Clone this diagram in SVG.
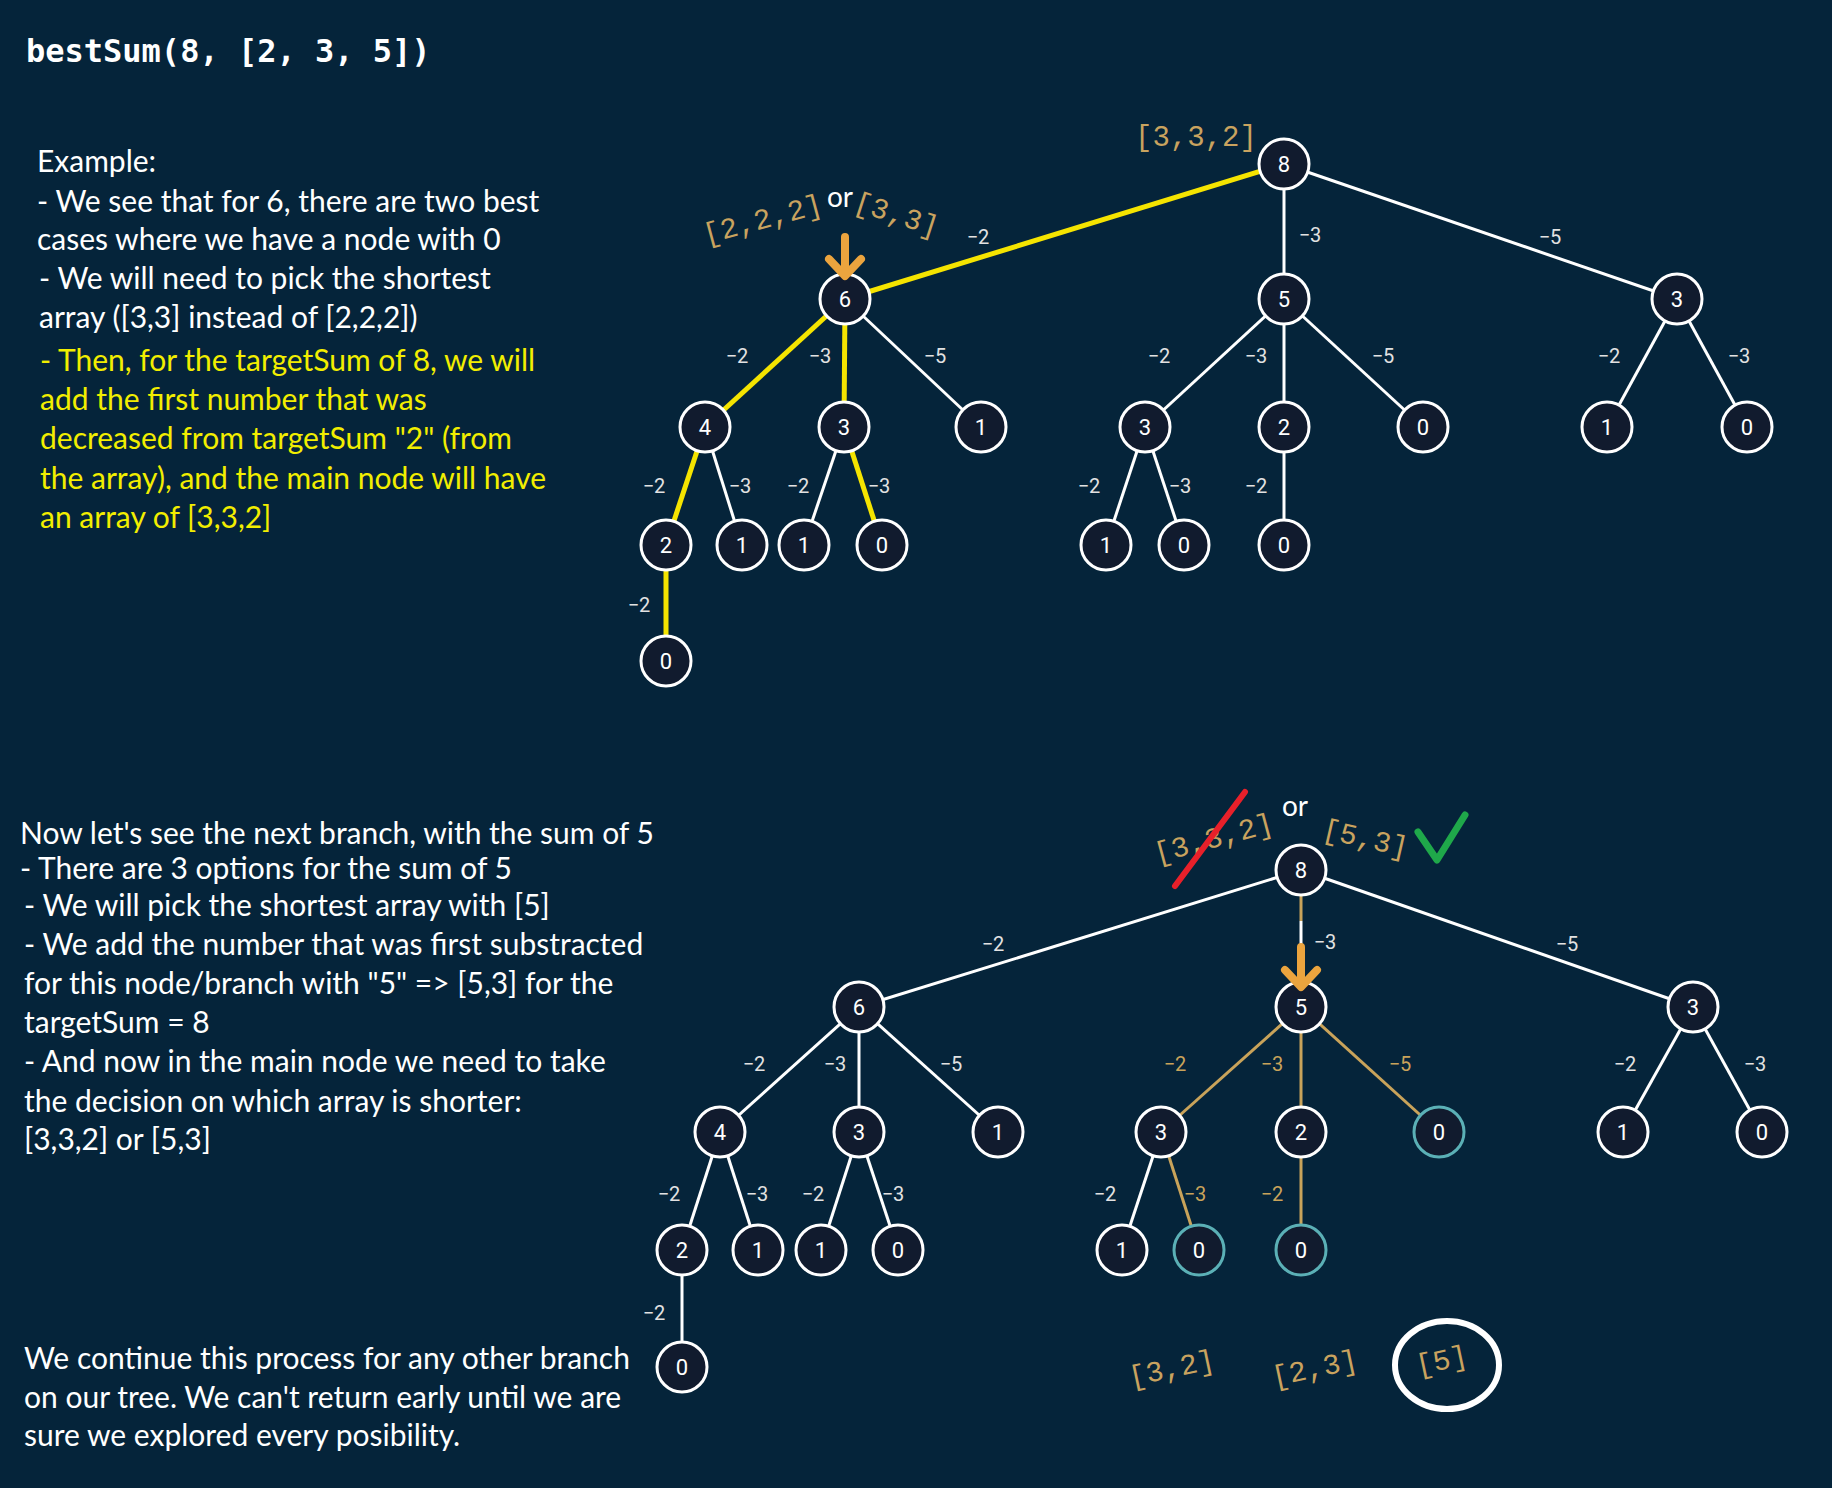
<svg xmlns="http://www.w3.org/2000/svg" width="1832" height="1488" viewBox="0 0 1832 1488">
<style>
.e{stroke:#ffffff;stroke-width:3;fill:none}
.y{stroke:#f5e400;stroke-width:5;fill:none}
.g{stroke:#c9a35a;stroke-width:3;fill:none}
.n circle{fill:#111b2e;stroke:#ffffff;stroke-width:3}
.teal circle{stroke:#5bb0b6}
.n text{font-family:Roboto,"Liberation Sans",sans-serif;font-size:22px;fill:#ffffff;text-anchor:middle;dominant-baseline:central}
.el{font-family:Roboto,"Liberation Sans",sans-serif;font-size:20px;fill:#e2e2e2;text-anchor:middle;dominant-baseline:central}
.gl{fill:#c9a35a}
.arr{font-family:"Liberation Mono",monospace;font-size:29px;fill:#c9a35f;text-anchor:middle;dominant-baseline:central}
.p{font-family:Lato,"Open Sans",sans-serif;font-size:30px;fill:#ffffff}
.yl{fill:#f2ee00}
.or{font-family:Lato,"Open Sans",sans-serif;font-size:28px;fill:#ffffff;text-anchor:middle;dominant-baseline:central}
.ar{stroke:#eba43e;stroke-width:8;stroke-linecap:round;stroke-linejoin:round;fill:none}
</style>
<rect width="1832" height="1488" fill="#05243a"/>

<text x="26" y="62" font-family="'DejaVu Sans Mono',monospace" font-weight="bold" font-size="32" fill="#ffffff">bestSum(8, [2, 3, 5])</text>

<g id="text-top">
<text class="p" x="37" y="172">Example:</text>
<text class="p" x="37" y="212">- We see that for 6, there are two best</text>
<text class="p" x="37" y="250">cases where we have a node with 0</text>
<text class="p" x="39" y="289">- We will need to pick the shortest</text>
<text class="p" x="39" y="328">array ([3,3] instead of [2,2,2])</text>
<text class="p yl" x="40" y="371">- Then, for the targetSum of 8, we will</text>
<text class="p yl" x="40" y="410">add the first number that was</text>
<text class="p yl" x="40" y="449">decreased from targetSum "2" (from</text>
<text class="p yl" x="40" y="489">the array), and the main node will have</text>
<text class="p yl" x="40" y="528">an array of [3,3,2]</text>
</g>

<g id="text-bottom">
<text class="p" x="20" y="844">Now let's see the next branch, with the sum of 5</text>
<text class="p" x="20" y="879">- There are 3 options for the sum of 5</text>
<text class="p" x="24" y="916"> - We will pick the shortest array with [5]</text>
<text class="p" x="24" y="955"> - We add the number that was first substracted</text>
<text class="p" x="24" y="994">for this node/branch with "5" =&gt; [5,3] for the</text>
<text class="p" x="24" y="1033">targetSum = 8</text>
<text class="p" x="24" y="1072">- And now in the main node we need to take</text>
<text class="p" x="24" y="1112">the decision on which array is shorter:</text>
<text class="p" x="24" y="1150">[3,3,2] or [5,3]</text>
<text class="p" x="24" y="1369">We continue this process for any other branch</text>
<text class="p" x="24" y="1408">on our tree. We can't return early until we are</text>
<text class="p" x="24" y="1446">sure we explored every posibility.</text>
</g>

<g id="connectors">
<!-- top tree -->
<line class="y" x1="1284" y1="164" x2="845" y2="299" stroke-width="8"/>
<line class="e" x1="1284" y1="164" x2="1284" y2="299"/>
<line class="e" x1="1284" y1="164" x2="1677" y2="299"/>
<line class="y" x1="845" y1="299" x2="705" y2="427"/>
<line class="y" x1="845" y1="299" x2="844" y2="427"/>
<line class="e" x1="845" y1="299" x2="981" y2="427"/>
<line class="e" x1="1284" y1="299" x2="1145" y2="427"/>
<line class="e" x1="1284" y1="299" x2="1284" y2="427"/>
<line class="e" x1="1284" y1="299" x2="1423" y2="427"/>
<line class="e" x1="1677" y1="299" x2="1607" y2="427"/>
<line class="e" x1="1677" y1="299" x2="1747" y2="427"/>
<line class="y" x1="705" y1="427" x2="666" y2="545"/>
<line class="e" x1="705" y1="427" x2="742" y2="545"/>
<line class="e" x1="844" y1="427" x2="804" y2="545"/>
<line class="y" x1="844" y1="427" x2="882" y2="545"/>
<line class="e" x1="1145" y1="427" x2="1106" y2="545"/>
<line class="e" x1="1145" y1="427" x2="1184" y2="545"/>
<line class="e" x1="1284" y1="427" x2="1284" y2="545"/>
<line class="y" x1="666" y1="545" x2="666" y2="661"/>
<!-- bottom tree -->
<line class="e" x1="1301" y1="870" x2="859" y2="1007"/>
<line class="g" x1="1301" y1="870" x2="1301" y2="921"/>
<line class="e" x1="1301" y1="921" x2="1301" y2="947"/>
<line class="e" x1="1301" y1="870" x2="1693" y2="1007"/>
<line class="e" x1="859" y1="1007" x2="720" y2="1132"/>
<line class="e" x1="859" y1="1007" x2="859" y2="1132"/>
<line class="e" x1="859" y1="1007" x2="998" y2="1132"/>
<line class="g" x1="1301" y1="1007" x2="1161" y2="1132"/>
<line class="g" x1="1301" y1="1007" x2="1301" y2="1132"/>
<line class="g" x1="1301" y1="1007" x2="1439" y2="1132"/>
<line class="e" x1="1693" y1="1007" x2="1623" y2="1132"/>
<line class="e" x1="1693" y1="1007" x2="1762" y2="1132"/>
<line class="e" x1="720" y1="1132" x2="682" y2="1250"/>
<line class="e" x1="720" y1="1132" x2="758" y2="1250"/>
<line class="e" x1="859" y1="1132" x2="821" y2="1250"/>
<line class="e" x1="859" y1="1132" x2="898" y2="1250"/>
<line class="e" x1="1161" y1="1132" x2="1122" y2="1250"/>
<line class="g" x1="1161" y1="1132" x2="1199" y2="1250"/>
<line class="g" x1="1301" y1="1132" x2="1301" y2="1250"/>
<line class="e" x1="682" y1="1250" x2="682" y2="1367"/>
</g>

<g id="edge-labels">
<text class="el" x="978" y="237">−2</text>
<text class="el" x="1310" y="235">−3</text>
<text class="el" x="1550" y="237">−5</text>
<text class="el" x="737" y="356">−2</text>
<text class="el" x="820" y="356">−3</text>
<text class="el" x="935" y="356">−5</text>
<text class="el" x="1159" y="356">−2</text>
<text class="el" x="1256" y="356">−3</text>
<text class="el" x="1383" y="356">−5</text>
<text class="el" x="1609" y="356">−2</text>
<text class="el" x="1739" y="356">−3</text>
<text class="el" x="654" y="486">−2</text>
<text class="el" x="740" y="486">−3</text>
<text class="el" x="798" y="486">−2</text>
<text class="el" x="879" y="486">−3</text>
<text class="el" x="1089" y="486">−2</text>
<text class="el" x="1180" y="486">−3</text>
<text class="el" x="1256" y="486">−2</text>
<text class="el" x="639" y="605">−2</text>

<text class="el" x="993" y="944">−2</text>
<text class="el" x="1325" y="942">−3</text>
<text class="el" x="1567" y="944">−5</text>
<text class="el" x="754" y="1064">−2</text>
<text class="el" x="835" y="1064">−3</text>
<text class="el" x="951" y="1064">−5</text>
<text class="el gl" x="1175" y="1064">−2</text>
<text class="el gl" x="1272" y="1064">−3</text>
<text class="el gl" x="1400" y="1064">−5</text>
<text class="el" x="1625" y="1064">−2</text>
<text class="el" x="1755" y="1064">−3</text>
<text class="el" x="669" y="1194">−2</text>
<text class="el" x="757" y="1194">−3</text>
<text class="el" x="813" y="1194">−2</text>
<text class="el" x="893" y="1194">−3</text>
<text class="el" x="1105" y="1194">−2</text>
<text class="el gl" x="1195" y="1194">−3</text>
<text class="el gl" x="1272" y="1194">−2</text>
<text class="el" x="654" y="1313">−2</text>
</g>

<g id="nodes-top">
<g id="t8" class="n"><circle cx="1284" cy="164" r="25"/><text x="1284" y="164">8</text></g>
<g id="t6" class="n"><circle cx="845" cy="299" r="25"/><text x="845" y="299">6</text></g>
<g id="t5" class="n"><circle cx="1284" cy="299" r="25"/><text x="1284" y="299">5</text></g>
<g id="t3r" class="n"><circle cx="1677" cy="299" r="25"/><text x="1677" y="299">3</text></g>
<g id="t4" class="n"><circle cx="705" cy="427" r="25"/><text x="705" y="427">4</text></g>
<g id="t3a" class="n"><circle cx="844" cy="427" r="25"/><text x="844" y="427">3</text></g>
<g id="t1a" class="n"><circle cx="981" cy="427" r="25"/><text x="981" y="427">1</text></g>
<g id="t3b" class="n"><circle cx="1145" cy="427" r="25"/><text x="1145" y="427">3</text></g>
<g id="t2b" class="n"><circle cx="1284" cy="427" r="25"/><text x="1284" y="427">2</text></g>
<g id="t0b" class="n"><circle cx="1423" cy="427" r="25"/><text x="1423" y="427">0</text></g>
<g id="t1r" class="n"><circle cx="1607" cy="427" r="25"/><text x="1607" y="427">1</text></g>
<g id="t0r" class="n"><circle cx="1747" cy="427" r="25"/><text x="1747" y="427">0</text></g>
<g id="t2a" class="n"><circle cx="666" cy="545" r="25"/><text x="666" y="545">2</text></g>
<g id="t1c" class="n"><circle cx="742" cy="545" r="25"/><text x="742" y="545">1</text></g>
<g id="t1d" class="n"><circle cx="804" cy="545" r="25"/><text x="804" y="545">1</text></g>
<g id="t0d" class="n"><circle cx="882" cy="545" r="25"/><text x="882" y="545">0</text></g>
<g id="t1e" class="n"><circle cx="1106" cy="545" r="25"/><text x="1106" y="545">1</text></g>
<g id="t0e" class="n"><circle cx="1184" cy="545" r="25"/><text x="1184" y="545">0</text></g>
<g id="t0f" class="n"><circle cx="1284" cy="545" r="25"/><text x="1284" y="545">0</text></g>
<g id="t0g" class="n"><circle cx="666" cy="661" r="25"/><text x="666" y="661">0</text></g>
</g>

<g id="nodes-bottom">
<g id="b8" class="n"><circle cx="1301" cy="870" r="25"/><text x="1301" y="870">8</text></g>
<g id="b6" class="n"><circle cx="859" cy="1007" r="25"/><text x="859" y="1007">6</text></g>
<g id="b5" class="n"><circle cx="1301" cy="1007" r="25"/><text x="1301" y="1007">5</text></g>
<g id="b3r" class="n"><circle cx="1693" cy="1007" r="25"/><text x="1693" y="1007">3</text></g>
<g id="b4" class="n"><circle cx="720" cy="1132" r="25"/><text x="720" y="1132">4</text></g>
<g id="b3a" class="n"><circle cx="859" cy="1132" r="25"/><text x="859" y="1132">3</text></g>
<g id="b1a" class="n"><circle cx="998" cy="1132" r="25"/><text x="998" y="1132">1</text></g>
<g id="b3b" class="n"><circle cx="1161" cy="1132" r="25"/><text x="1161" y="1132">3</text></g>
<g id="b2b" class="n"><circle cx="1301" cy="1132" r="25"/><text x="1301" y="1132">2</text></g>
<g id="b0b" class="n teal"><circle cx="1439" cy="1132" r="25"/><text x="1439" y="1132">0</text></g>
<g id="b1r" class="n"><circle cx="1623" cy="1132" r="25"/><text x="1623" y="1132">1</text></g>
<g id="b0r" class="n"><circle cx="1762" cy="1132" r="25"/><text x="1762" y="1132">0</text></g>
<g id="b2a" class="n"><circle cx="682" cy="1250" r="25"/><text x="682" y="1250">2</text></g>
<g id="b1c" class="n"><circle cx="758" cy="1250" r="25"/><text x="758" y="1250">1</text></g>
<g id="b1d" class="n"><circle cx="821" cy="1250" r="25"/><text x="821" y="1250">1</text></g>
<g id="b0d" class="n"><circle cx="898" cy="1250" r="25"/><text x="898" y="1250">0</text></g>
<g id="b1e" class="n"><circle cx="1122" cy="1250" r="25"/><text x="1122" y="1250">1</text></g>
<g id="b0e" class="n teal"><circle cx="1199" cy="1250" r="25"/><text x="1199" y="1250">0</text></g>
<g id="b0f" class="n teal"><circle cx="1301" cy="1250" r="25"/><text x="1301" y="1250">0</text></g>
<g id="b0g" class="n"><circle cx="682" cy="1367" r="25"/><text x="682" y="1367">0</text></g>
</g>

<g id="annotations">
<text class="arr" x="1196" y="138">[3,3,2]</text>
<text class="arr" transform="translate(763,221) rotate(-15)">[2,2,2]</text>
<text class="or" x="840" y="196">or</text>
<text class="arr" transform="translate(896,216) rotate(18)">[3,3]</text>
<path class="ar" d="M845 237 L845 272 M829 259 L845 276 L861 259"/>

<text class="arr" transform="translate(1214,840) rotate(-15)">[3,3,2]</text>
<line x1="1175" y1="886" x2="1245" y2="792" stroke="#e8202a" stroke-width="6" stroke-linecap="round"/>
<text class="or" x="1295" y="805">or</text>
<text class="arr" transform="translate(1365,840) rotate(13)">[5,3]</text>
<polyline points="1418,832 1437,860 1465,815" fill="none" stroke="#1fa84a" stroke-width="7" stroke-linecap="round" stroke-linejoin="round"/>
<path class="ar" d="M1301 947 L1301 983 M1285 970 L1301 987 L1317 970"/>

<text class="arr" transform="translate(1172,1370) rotate(-12)">[3,2]</text>
<text class="arr" transform="translate(1315,1370) rotate(-12)">[2,3]</text>
<text class="arr" transform="translate(1442,1362) rotate(-12)">[5]</text>
<ellipse cx="1447" cy="1365" rx="52" ry="44" fill="none" stroke="#ffffff" stroke-width="6"/>
</g>
</svg>
